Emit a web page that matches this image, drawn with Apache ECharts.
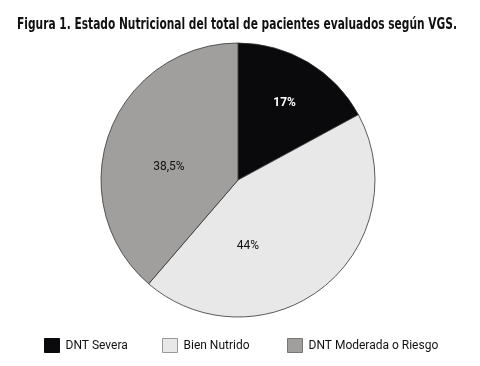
<!DOCTYPE html>
<html><head><meta charset="utf-8">
<script src="https://cdn.jsdelivr.net/npm/echarts@6/dist/echarts.min.js"></script>
<style>html,body{margin:0;padding:0;background:#fff}#c{width:480px;height:366px}</style>
</head><body><div id="c"></div>
<script>
const titleText = 'Figura 1. Estado Nutricional del total de pacientes evaluados según VGS.';
const categories = ['DNT Severa', 'Bien Nutrido', 'DNT Moderada o Riesgo'];
const values = [17, 44, 38.5];
const valueLabels = ['17%', '44%', '38,5%'];
const colors = ['#0a0a0c', '#e8e8e8', '#a09f9d'];
const labelColors = ['#ffffff', '#111111', '#111111'];
const labelOffsets = [[10, -16], [-35, 10], [-2, 12]];
const legendLefts = [39, 157, 282];
const legendBorders = ['#0a0a0c', '#999999', '#777777'];

// fit title to reference width by horizontal scaling
const TITLE_FONT = 'bold 16px "DejaVu Sans Condensed"';
const cv = document.createElement('canvas').getContext('2d');
cv.font = TITLE_FONT;
const titleScale = 440 / cv.measureText(titleText).width;

const chart = echarts.init(document.getElementById('c'), null, {renderer: 'canvas'});
chart.setOption({
  animation: false,
  graphic: [{
    type: 'text', x: 237, y: 25, scaleX: titleScale, scaleY: 1,
    style: {text: titleText, font: TITLE_FONT, fill: '#111', align: 'center', verticalAlign: 'middle'}
  }],
  legend: categories.map((c, i) => ({
    data: [{name: c, itemStyle: {borderColor: legendBorders[i], borderWidth: 1}}],
    left: legendLefts[i], top: 333,
    itemWidth: 15, itemHeight: 14, itemGap: 5,
    icon: 'rect',
    textStyle: {fontFamily: 'Roboto, sans-serif', fontSize: 12, color: '#111', padding: [0, 0, 0, 1]}
  })),
  series: [{
    type: 'pie',
    center: [238, 180],
    radius: [0, 137],
    startAngle: 90,
    clockwise: true,
    itemStyle: {borderColor: '#333', borderWidth: 0.8},
    label: {show: true, position: 'inside', fontFamily: 'Roboto, sans-serif', fontSize: 12},
    labelLine: {show: false},
    emphasis: {disabled: true},
    data: categories.map((n, i) => ({
      name: n, value: values[i],
      itemStyle: {color: colors[i]},
      label: {formatter: valueLabels[i], color: labelColors[i], offset: labelOffsets[i],
               fontWeight: i === 0 ? 'bold' : 'normal'}
    }))
  }]
});
</script></body></html>
